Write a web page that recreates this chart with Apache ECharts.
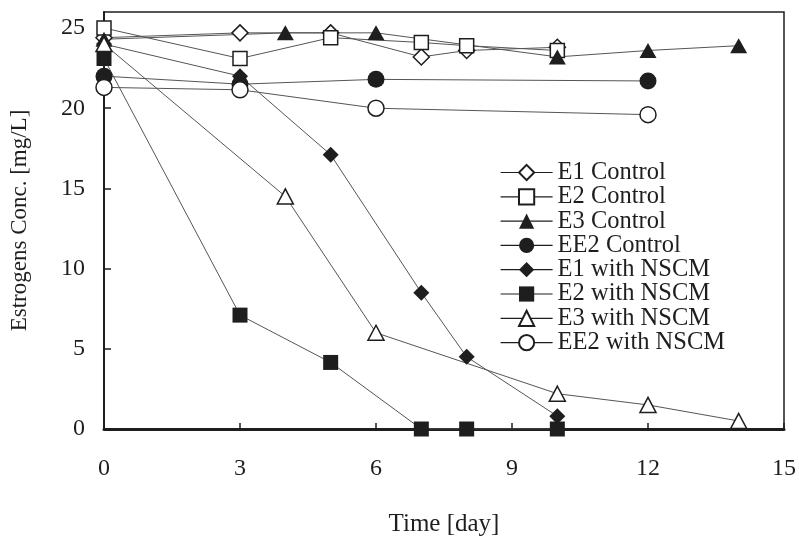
<!DOCTYPE html>
<html><head><meta charset="utf-8">
<script src="https://cdn.jsdelivr.net/npm/echarts@6/dist/echarts.min.js"></script>
<style>html,body{margin:0;padding:0;background:#fff}#c{width:799px;height:538px}</style>
</head><body><div id="c"></div>
<script>
// ---- data ----
const seriesNames = ['E1 Control','E2 Control','E3 Control','EE2 Control','E1 with NSCM','E2 with NSCM','E3 with NSCM','EE2 with NSCM'];
const e1ControlDays = [0, 3, 5, 7, 8, 10];
const e1ControlConc = [24.4, 24.7, 24.7, 23.2, 23.6, 23.8];
const e2ControlDays = [0, 3, 5, 7, 8, 10];
const e2ControlConc = [25.0, 23.1, 24.4, 24.1, 23.9, 23.6];
const e3ControlDays = [0, 4, 6, 10, 12, 14];
const e3ControlConc = [24.3, 24.7, 24.7, 23.2, 23.6, 23.9];
const ee2ControlDays = [0, 3, 6, 12];
const ee2ControlConc = [22.0, 21.5, 21.8, 21.7];
const e1NscmDays = [0, 3, 5, 7, 8, 10];
const e1NscmConc = [24.0, 22.0, 17.1, 8.5, 4.5, 0.8];
const e2NscmDays = [0, 3, 5, 7, 8, 10];
const e2NscmConc = [23.1, 7.1, 4.15, 0, 0, 0];
const e3NscmDays = [0, 4, 6, 10, 12, 14];
const e3NscmConc = [24.0, 14.5, 6.0, 2.2, 1.5, 0.5];
const ee2NscmDays = [0, 3, 6, 12];
const ee2NscmConc = [21.3, 21.15, 20.0, 19.6];

const zip = (a, b) => a.map((v, i) => [v, b[i]]);
const FONT = '"Liberation Serif", "Times New Roman", serif';
const DARK = '#1e1e1e';

function mk(name, days, conc, symbol, filled, size) {
  return {
    name, type: 'line', data: zip(days, conc),
    symbol, symbolSize: size, showAllSymbol: true,
    lineStyle: { color: '#555', width: 1 },
    itemStyle: filled ? { color: DARK, borderColor: DARK, borderWidth: 0 }
                      : { color: '#fff', borderColor: DARK, borderWidth: 1.5 },
    emphasis: { disabled: true }, animation: false
  };
}

const series = [
  mk(seriesNames[0], e1ControlDays, e1ControlConc, 'diamond', false, [16, 16]),
  mk(seriesNames[1], e2ControlDays, e2ControlConc, 'rect', false, 14),
  mk(seriesNames[2], e3ControlDays, e3ControlConc, 'triangle', true, [17, 15]),
  mk(seriesNames[3], ee2ControlDays, ee2ControlConc, 'circle', true, 17),
  mk(seriesNames[4], e1NscmDays, e1NscmConc, 'diamond', true, [16, 16]),
  mk(seriesNames[5], e2NscmDays, e2NscmConc, 'rect', true, 15),
  mk(seriesNames[6], e3NscmDays, e3NscmConc, 'triangle', false, [16, 15]),
  mk(seriesNames[7], ee2NscmDays, ee2NscmConc, 'circle', false, 16)
];

const chart = echarts.init(document.getElementById('c'), null, { renderer: 'canvas' });
chart.setOption({
  animation: false,
  backgroundColor: '#fff',
  textStyle: { fontFamily: FONT, color: DARK },
  grid: { left: 104, right: 15, top: 12, bottom: 109, show: true, borderColor: DARK, borderWidth: 1.5, backgroundColor: 'transparent', containLabel: false, outerBoundsMode: 'none' },
  legend: {
    orient: 'vertical', left: 500, top: 160, padding: 0,
    itemWidth: 52, itemHeight: 19, itemGap: -0.7,
    data: seriesNames,
    lineStyle: { color: DARK, width: 1.2 },
    textStyle: { fontFamily: FONT, fontSize: 24.5, color: DARK },
    selectedMode: false
  },
  xAxis: {
    type: 'value', min: 0, max: 15, interval: 3,
    name: 'Time [day]', nameLocation: 'middle', nameGap: 83,
    nameTextStyle: { fontFamily: FONT, fontSize: 25, color: DARK },
    axisLine: { show: true, lineStyle: { color: DARK, width: 3 } },
    axisTick: { show: true, inside: true, length: 6, lineStyle: { color: DARK, width: 1.5 } },
    axisLabel: { fontFamily: FONT, fontSize: 24, color: DARK, margin: 28 },
    splitLine: { show: false }
  },
  yAxis: {
    type: 'value', min: 0, max: 26, interval: 5,
    name: 'Estrogens Conc. [mg/L]', nameLocation: 'middle', nameGap: 73,
    nameTextStyle: { fontFamily: FONT, fontSize: 23, color: DARK },
    axisLine: { show: true, lineStyle: { color: DARK, width: 2 } },
    axisTick: { show: true, inside: true, length: 7, lineStyle: { color: DARK, width: 1.5 } },
    axisLabel: { fontFamily: FONT, fontSize: 24, color: DARK, margin: 19, showMaxLabel: false },
    splitLine: { show: false }
  },
  series
});
</script>
</body></html>
